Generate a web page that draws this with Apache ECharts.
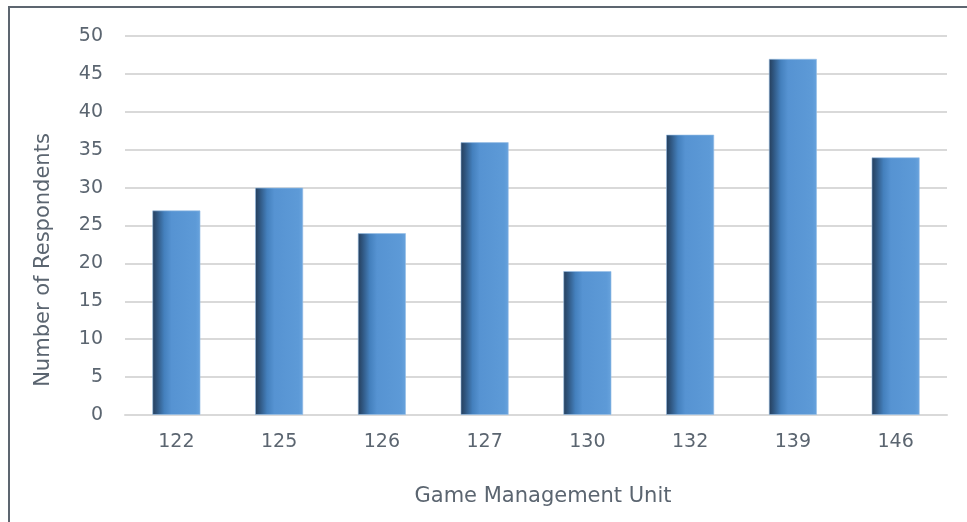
<!DOCTYPE html>
<html>
<head>
<meta charset="utf-8">
<script src="https://cdn.jsdelivr.net/npm/echarts@6/dist/echarts.min.js"></script>
<style>
html,body{margin:0;padding:0;background:#fff;}
#c{width:967px;height:522px;}
</style>
</head>
<body>
<div id="c"></div>
<script>
const categories = ['122','125','126','127','130','132','139','146'];
const respondents = [27, 30, 24, 36, 19, 37, 47, 34];
const xTitle = 'Game Management Unit';
const yTitle = 'Number of Respondents';

const chart = echarts.init(document.getElementById('c'), null, {renderer:'canvas'});
const txt = '#5b6570';
const font = 'DejaVu Sans';
chart.setOption({
  animation: false,
  backgroundColor: '#fff',
  graphic: [{
    type: 'rect',
    shape: {x: 9, y: 7, width: 1000, height: 600},
    style: {fill: 'none', stroke: '#5d6670', lineWidth: 2},
    silent: true
  }, {
    type: 'text',
    x: 44, y: 260,
    rotation: Math.PI / 2,
    style: {text: yTitle, fill: txt, fontSize: 21, fontFamily: font, align: 'center', verticalAlign: 'middle'},
    silent: true
  }, {
    type: 'text',
    x: 543, y: 497,
    style: {text: xTitle, fill: txt, fontSize: 21, fontFamily: font, align: 'center', verticalAlign: 'middle'},
    silent: true
  }],
  grid: {left: 125, right: 20, top: 36, bottom: 107},
  xAxis: {
    type: 'category',
    data: categories,
    axisLine: {show: true, lineStyle: {color: '#d9d9d9', width: 2}},
    axisTick: {show: false},
    axisLabel: {color: txt, fontSize: 19, fontFamily: font, margin: 18}
  },
  yAxis: {
    type: 'value',
    min: 0, max: 50, interval: 5,
    axisLine: {show: false},
    axisTick: {show: false},
    axisLabel: {color: txt, fontSize: 19, fontFamily: font, margin: 22},
    splitLine: {lineStyle: {color: '#d9d9d9', width: 2}}
  },
  series: [{
    type: 'bar',
    data: respondents,
    barWidth: '47%',
    itemStyle: {
      color: new echarts.graphic.LinearGradient(0, 0, 1, 0, [
        {offset: 0, color: '#253d59'},
        {offset: 0.1, color: '#2f5680'},
        {offset: 0.25, color: '#4480bd'},
        {offset: 0.4, color: '#5693d2'},
        {offset: 0.9, color: '#5d9ad7'},
        {offset: 1, color: '#68a3dd'}
      ]),
      borderColor: 'rgba(150,190,230,0.6)',
      borderWidth: 1
    }
  }]
});
</script>
</body>
</html>
